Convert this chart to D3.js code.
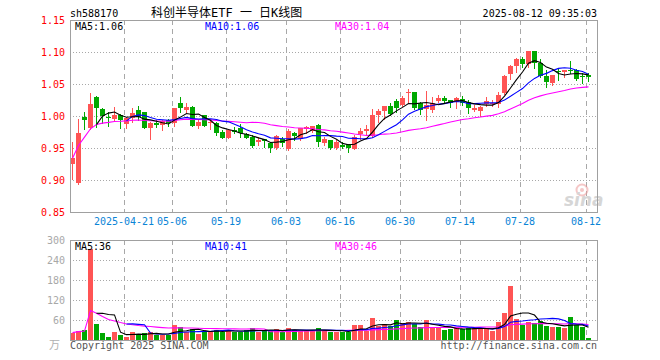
<!DOCTYPE html>
<html><head><meta charset="utf-8">
<script src="https://cdn.jsdelivr.net/npm/d3@7"></script>
<style>
html,body{margin:0;padding:0;background:#fff;}
svg{display:block;}
text{font-family:"DejaVu Sans Mono","Liberation Mono","Noto Sans CJK SC",monospace;font-size:10px;}
</style></head>
<body>
<svg id="chart" width="660" height="360"></svg>
<script>
// ---------------- data ----------------
const dates = ["04-08","04-09","04-10","04-11","04-14","04-15","04-16","04-17","04-18","04-21","04-22","04-23","04-24","04-25","04-28","04-29","04-30","05-06","05-07","05-08","05-09","05-12","05-13","05-14","05-15","05-16","05-19","05-20","05-21","05-22","05-23","05-26","05-27","05-28","05-29","05-30","06-03","06-04","06-05","06-06","06-09","06-10","06-11","06-12","06-13","06-16","06-17","06-18","06-19","06-20","06-23","06-24","06-25","06-26","06-27","06-30","07-01","07-02","07-03","07-04","07-07","07-08","07-09","07-10","07-11","07-14","07-15","07-16","07-17","07-18","07-21","07-22","07-23","07-24","07-25","07-28","07-29","07-30","07-31","08-01","08-04","08-05","08-06","08-07","08-08","08-11","08-12"];
const openP  = [0.9245,0.895,0.999,0.982,1.030,1.011,0.998,0.995,1.0016,0.988,0.9964,1.0094,1.0057,0.9817,0.9886,0.986,0.9937,0.9886,1.021,1.0094,1.0146,0.985,1.0016,0.9886,0.9886,0.9755,0.966,0.978,0.9807,0.972,0.9677,0.960,0.9635,0.958,0.9495,0.9636,0.948,0.973,0.9636,0.979,0.977,0.986,0.958,0.9625,0.9495,0.9547,0.9557,0.948,0.9714,0.977,0.969,1.0016,1.008,1.0156,1.024,1.017,1.037,1.038,1.020,1.011,1.0094,1.024,1.0276,1.025,1.0224,1.026,1.0224,1.0094,1.008,1.019,1.019,1.019,1.036,1.065,1.078,1.089,1.081,1.1016,1.083,1.063,1.052,1.0703,1.0688,1.0719,1.0719,1.0625,1.064];
const highP  = [0.959,0.996,1.006,1.036,1.031,1.012,1.007,1.0145,1.003,0.999,1.013,1.016,1.007,0.990,0.99375,0.994,0.995,1.013,1.030,1.020,1.015,0.9937,1.002,0.993,0.991,0.978,0.9797,0.983,0.987,0.974,0.970,0.9677,0.9635,0.960,0.970,0.9667,0.9797,0.9745,0.982,0.9844,0.985,0.9875,0.9667,0.9625,0.9625,0.960,0.957,0.970,0.981,0.986,1.011,1.011,1.0156,1.021,1.026,1.031,1.042,1.038,1.022,1.0396,1.030,1.033,1.032,1.025,1.030,1.031,1.025,1.017,1.0156,1.029,1.025,1.038,1.064,1.080,1.090,1.0927,1.1016,1.1016,1.089,1.0719,1.064,1.0745,1.0719,1.086,1.073,1.0667,1.0667];
const lowP   = [0.901,0.894,0.980,0.980,0.983,0.989,0.985,0.993,0.982,0.981,0.991,0.993,0.981,0.964,0.983,0.978,0.984,0.985,1.0067,1.0067,0.984,0.981,0.984,0.9797,0.970,0.965,0.965,0.973,0.9677,0.965,0.952,0.9547,0.952,0.944,0.948,0.953,0.947,0.9625,0.9625,0.974,0.975,0.953,0.9547,0.948,0.948,0.9505,0.944,0.948,0.9636,0.970,0.9677,0.991,0.996,1.0016,1.0067,1.016,1.022,1.0117,1.003,0.99375,1.0067,1.022,1.020,1.0146,1.012,1.017,1.005,1.008,1.000,1.0156,1.016,1.0146,1.035,1.058,1.068,1.077,1.077,1.0745,1.0615,1.0458,1.0484,1.057,1.0615,1.0667,1.056,1.052,1.055];
const closeP = [0.934,0.974,0.993,1.019,1.013,1.0005,0.997,1.0016,0.994,0.997,1.0047,0.998,0.9817,0.9886,0.986,0.9927,0.9886,1.012,1.012,1.0146,0.985,0.991,0.985,0.991,0.974,0.966,0.978,0.9745,0.973,0.966,0.953,0.9625,0.961,0.9505,0.969,0.9573,0.977,0.969,0.981,0.9823,0.9844,0.960,0.9636,0.9505,0.960,0.952,0.9495,0.9667,0.9766,0.979,1.0016,1.008,1.0156,1.003,1.012,1.0286,1.038,1.013,1.0094,1.017,1.020,1.0286,1.0234,1.020,1.0276,1.021,1.013,1.013,1.0146,1.0234,1.021,1.033,1.063,1.078,1.089,1.081,1.1016,1.083,1.063,1.0536,1.064,1.068,1.0719,1.0708,1.0578,1.0605,1.0605];
const volume = [22,28,30,273,48,21,10,24,15,10,24,15,20,24,16,15,16,45,39,24,33,19,25,27,31,25,28,25,25,31,36,25,27,31,32,25,36,29,28,28,28,36,28,25,25,25,25,45,45,28,67,43,47,42,60,52,53,47,40,60,37,37,30,33,35,32,35,35,35,35,27,53,82,162,62,45,55,50,58,43,38,38,35,68,45,38,5];

const priceTicks = [1.15,1.10,1.05,1.00,0.95,0.90,0.85];
const volTicks = [300,240,180,120,60];
const tickDates = ["04-21","05-06","05-19","06-03","06-16","06-30","07-14","07-28","08-12"];
const tickLabels = ["2025-04-21","05-06","05-19","06-03","06-16","06-30","07-14","07-28","08-12"];
const priceMaLabels = ["MA5:1.06","MA10:1.06","MA30:1.04"];
const volMaLabels = ["MA5:36","MA10:41","MA30:46"];
const titleText = "科创半导体ETF 一 日K线图";
const codeText = "sh588170";
const timeText = "2025-08-12 09:35:03";

// ---------------- setup ----------------
const svg = d3.select("#chart");
const L = 70, R = 597, PT = 20, PB = 212, VT = 240, VB = 340;
const step = 6;
const x = d3.scaleBand().domain(dates).range([L, L + step * (dates.length - 1/6)]).paddingInner(1/6).paddingOuter(0);
const yP = d3.scaleLinear().domain([0.85, 1.15]).range([PB, PT]);
const yV = d3.scaleLinear().domain([0, 300]).range([VB, VT]);

const RED = "#ff5454", GREEN = "#00a800";
const C_MA5 = "#000000", C_MA10 = "#0000ff", C_MA30 = "#ff00ff";
const GRID = "#a8a8a8";

svg.append("rect").attr("width",660).attr("height",360).attr("fill","#fff");

function ma(arr, n, partial){
  return arr.map((_, i) => {
    if (i < n - 1) return partial ? d3.mean(arr.slice(0, i + 1)) : null;
    return d3.mean(arr.slice(i - n + 1, i + 1));
  });
}

// ---------------- grids ----------------
const g = svg.append("g").attr("shape-rendering","crispEdges");
// horizontal dotted
g.selectAll(".hp").data(priceTicks.filter(t => t < 1.149 && t > 0.851)).enter().append("line")
  .attr("x1", L).attr("x2", R).attr("y1", d => Math.round(yP(d)) + 0.5).attr("y2", d => Math.round(yP(d)) + 0.5)
  .attr("stroke", GRID).attr("stroke-dasharray","1,2");
g.selectAll(".hv").data(volTicks.filter(t => t < 300)).enter().append("line")
  .attr("x1", L).attr("x2", R).attr("y1", d => Math.round(yV(d)) + 0.5).attr("y2", d => Math.round(yV(d)) + 0.5)
  .attr("stroke", GRID).attr("stroke-dasharray","1,2");
// vertical dashed
[[PT, PB], [VT, VB]].forEach(([a, b]) => {
  g.selectAll(null).data(tickDates).enter().append("line")
    .attr("x1", d => x(d) + 0.5).attr("x2", d => x(d) + 0.5)
    .attr("y1", a).attr("y2", b)
    .attr("stroke", GRID).attr("stroke-dasharray","5,4");
});

// ---------------- watermark ----------------
const wm = svg.append("g").attr("opacity", 0.55);
wm.append("circle").attr("cx", 582).attr("cy", 190).attr("r", 5.5).attr("fill","none").attr("stroke","#ee9a9a").attr("stroke-width",2);
wm.append("circle").attr("cx", 582).attr("cy", 190).attr("r", 2).attr("fill","#ee9a9a");
wm.append("text").attr("x", 564).attr("y", 206).text("sina")
  .style("font-family","DejaVu Sans").style("font-size","17px").style("font-weight","bold").style("font-style","italic").attr("fill","#b5b5b5");

// ---------------- candles ----------------
const data = dates.map((d, i) => ({d, o: openP[i], h: highP[i], l: lowP[i], c: closeP[i], v: volume[i], up: closeP[i] >= openP[i]}));
const cg = svg.append("g").attr("shape-rendering","crispEdges");
cg.selectAll(".wick").data(data).enter().append("line")
  .attr("x1", d => x(d.d) + 2.5).attr("x2", d => x(d.d) + 2.5)
  .attr("y1", d => Math.round(yP(d.h))).attr("y2", d => Math.round(yP(d.l)) + 1)
  .attr("stroke", d => d.up ? RED : GREEN);
cg.selectAll(".body").data(data).enter().append("rect")
  .attr("x", d => x(d.d)).attr("width", x.bandwidth())
  .attr("y", d => Math.round(yP(Math.max(d.o, d.c))))
  .attr("height", d => Math.max(1, Math.round(yP(Math.min(d.o, d.c))) - Math.round(yP(Math.max(d.o, d.c)))))
  .attr("fill", d => d.up ? RED : GREEN);

// ---------------- volume ----------------
cg.selectAll(".vol").data(data).enter().append("rect")
  .attr("x", d => x(d.d)).attr("width", x.bandwidth())
  .attr("y", d => Math.round(yV(d.v))).attr("height", d => VB + 1 - Math.round(yV(d.v)))
  .attr("fill", d => d.up ? RED : GREEN);

// ---------------- MA lines ----------------
function drawMA(vals, ys, color){
  const pts = dates.map((d, i) => [x(d) + 2.5, vals[i]]).filter(p => p[1] != null);
  svg.append("path").datum(pts)
    .attr("d", d3.line().x(p => p[0]).y(p => ys(p[1])))
    .attr("fill","none").attr("stroke", color).attr("stroke-width", 1.1);
}
drawMA(ma(closeP, 30, true), yP, C_MA30);
drawMA(ma(closeP, 10, false), yP, C_MA10);
drawMA(ma(closeP, 5, false), yP, C_MA5);
drawMA(ma(volume, 30, true), yV, C_MA30);
drawMA(ma(volume, 10, false), yV, C_MA10);
drawMA(ma(volume, 5, false), yV, C_MA5);

// ---------------- frames ----------------
const fr = svg.append("g").attr("shape-rendering","crispEdges");
fr.append("rect").attr("x", L + 0.5).attr("y", PT + 0.5).attr("width", R - L).attr("height", PB - PT).attr("fill","none").attr("stroke","#a0a0a0");
fr.append("rect").attr("x", L + 0.5).attr("y", VT + 0.5).attr("width", R - L).attr("height", VB - VT).attr("fill","none").attr("stroke","#a0a0a0");

// ---------------- axes ----------------
const ax = svg.append("g").attr("transform", `translate(${L},0)`)
  .call(d3.axisLeft(yP).tickValues(priceTicks).tickSize(0).tickPadding(5).tickFormat(d3.format(".2f")));
ax.select(".domain").remove();
ax.selectAll("text").attr("fill","#ff0000").attr("dy","0.35em").style("font-size","10px").style("font-family","DejaVu Sans Mono");

const av = svg.append("g").attr("transform", `translate(${L - 1},0)`)
  .call(d3.axisLeft(yV).tickValues(volTicks).tickSize(0).tickPadding(4).tickFormat(d3.format("d")));
av.select(".domain").remove();
av.selectAll("text").attr("fill","#a8a8a8").attr("dy","0.35em").style("font-size","10px").style("font-family","DejaVu Sans Mono");

const lblMap = new Map(tickDates.map((d, i) => [d, tickLabels[i]]));
const axb = svg.append("g").attr("transform", `translate(-2.5,${PB})`)
  .call(d3.axisBottom(x).tickValues(tickDates).tickSize(0).tickPadding(6).tickFormat(d => lblMap.get(d)));
axb.select(".domain").remove();
axb.selectAll("text").attr("fill","#0a84d6").style("font-size","10px").style("font-family","DejaVu Sans Mono");

// ---------------- texts ----------------
svg.append("text").attr("x", 70).attr("y", 16.5).attr("fill","#000").text(codeText);
svg.append("text").attr("x", 151).attr("y", 17).attr("fill","#000")
  .style("font-size","12px").style("font-family","'DejaVu Sans Mono','Noto Sans CJK SC'").text(titleText);
svg.append("text").attr("x", R).attr("y", 16.5).attr("text-anchor","end").attr("fill","#000").text(timeText);

const maCols = [C_MA5, C_MA10, C_MA30];
const maX = [75, 205, 335];
priceMaLabels.forEach((t, i) => svg.append("text").attr("x", maX[i]).attr("y", 29.5).attr("fill", maCols[i]).text(t));
volMaLabels.forEach((t, i) => svg.append("text").attr("x", maX[i]).attr("y", 249.5).attr("fill", maCols[i]).text(t));

svg.append("text").attr("x", 49).attr("y", 349).attr("fill","#b0b0b0").style("font-family","'Noto Sans CJK SC'").style("font-size","11px").text("万");
svg.append("text").attr("x", 70).attr("y", 349).attr("fill","#555").text("Copyright 2025 SINA.COM");
svg.append("text").attr("x", R).attr("y", 349).attr("text-anchor","end").attr("fill","#555").text("http://finance.sina.com.cn");
</script>
</body></html>
